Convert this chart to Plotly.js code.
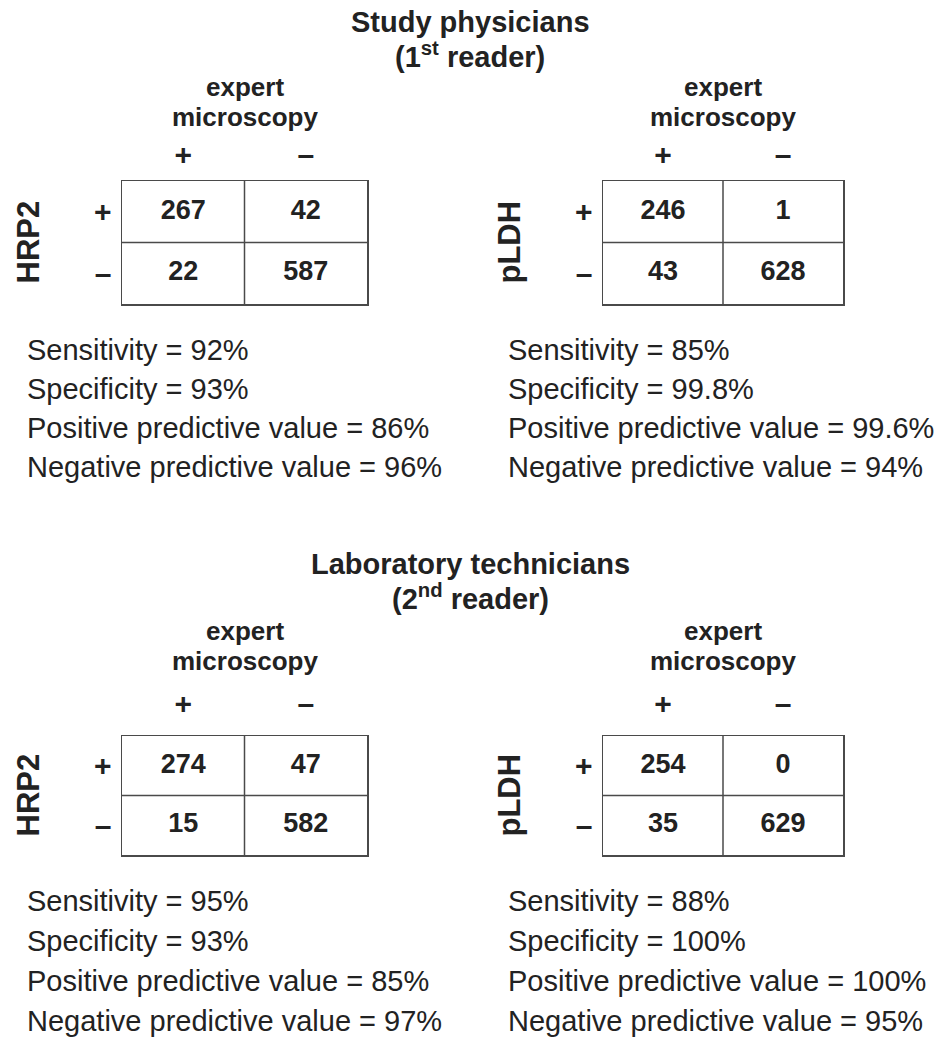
<!DOCTYPE html>
<html>
<head>
<meta charset="utf-8">
<script src="https://cdn.plot.ly/plotly-3.0.1.min.js"></script>
<style>html,body{margin:0;padding:0;background:#fff;}#chart{width:940px;height:1042px;}</style>
</head>
<body>
<div id="chart"></div>
<script>
// ---------- data ----------
const readerTitles = ["Study physicians", "Laboratory technicians"];
const readerSubtitles = ["(1<sup>st</sup> reader)", "(2<sup>nd</sup> reader)"];
const tests = ["HRP2", "pLDH"];
const referenceLabel = ["expert", "microscopy"];
const colLabels = ["+", "–"];
const rowLabels = ["+", "–"];
const metrics = ["Sensitivity", "Specificity", "Positive predictive value", "Negative predictive value"];

const physHRP2 = [[267, 42], [22, 587]];
const physPLDH = [[246, 1], [43, 628]];
const techHRP2 = [[274, 47], [15, 582]];
const techPLDH = [[254, 0], [35, 629]];

const physHRP2Stats = ["92%", "93%", "86%", "96%"];
const physPLDHStats = ["85%", "99.8%", "99.6%", "94%"];
const techHRP2Stats = ["95%", "93%", "85%", "97%"];
const techPLDHStats = ["88%", "100%", "100%", "95%"];

// ---------- layout helpers ----------
const W = 940, H = 1042;
const FAM = '"Liberation Sans", Arial, Helvetica, sans-serif';
const INK = '#222';
const LINE = '#4a4a4a';
const px = p => p / W;
const py = p => 1 - p / H;

const panels = [
  {table: physHRP2, stats: physHRP2Stats, test: 0, reader: 0, box: {l: 122, r: 367, t: 181, b: 304}, statX: 25},
  {table: physPLDH, stats: physPLDHStats, test: 1, reader: 0, box: {l: 603, r: 843, t: 181, b: 304}, statX: 506},
  {table: techHRP2, stats: techHRP2Stats, test: 0, reader: 1, box: {l: 122, r: 367, t: 736, b: 855}, statX: 25},
  {table: techPLDH, stats: techPLDHStats, test: 1, reader: 1, box: {l: 603, r: 843, t: 736, b: 855}, statX: 506}
];
const readerY = [{t1: 22, t2: 55, e1: 87, e2: 117, tick: 3, stats: [350, 389, 428, 467]},
                 {t1: 564, t2: 597, e1: 631, e2: 661, tick: 9, stats: [901, 941, 981, 1021]}];

const data = [];
const layout = {
  width: W, height: H,
  margin: {l: 0, r: 0, t: 0, b: 0},
  paper_bgcolor: '#fff', plot_bgcolor: '#fff',
  showlegend: false,
  font: {family: FAM, color: INK},
  annotations: [], shapes: []
};

readerTitles.forEach((t, r) => {
  layout.annotations.push({xref: 'paper', yref: 'paper', x: 0.5, y: py(readerY[r].t1), text: t,
    showarrow: false, xanchor: 'center', yanchor: 'middle', font: {size: 29, weight: 'bold', family: FAM, color: INK}});
  layout.annotations.push({xref: 'paper', yref: 'paper', x: 0.5, y: py(readerY[r].t2), text: readerSubtitles[r],
    showarrow: false, xanchor: 'center', yanchor: 'middle', font: {size: 29, weight: 'bold', family: FAM, color: INK}});
});

panels.forEach((p, i) => {
  const n = i === 0 ? '' : String(i + 1);
  const xa = 'xaxis' + n, ya = 'yaxis' + n;
  const xr = 'x' + n, yr = 'y' + n;
  const b = p.box;
  const ry = readerY[p.reader];
  layout[xa] = {
    domain: [px(b.l), px(b.r)], anchor: yr, range: [0, 2], side: 'top',
    tickmode: 'array', tickvals: colLabels.map((_, j) => j + 0.5), ticktext: colLabels,
    ticks: 'outside', ticklen: ry.tick, tickcolor: 'rgba(0,0,0,0)',
    tickfont: {size: 30, weight: 'bold', family: FAM, color: INK},
    showline: true, mirror: true, linecolor: LINE, linewidth: 1.5,
    showgrid: false, zeroline: false, fixedrange: true
  };
  layout[ya] = {
    domain: [py(b.b), py(b.t)], anchor: xr, range: [2, 0],
    tickmode: 'array', tickvals: rowLabels.map((_, j) => j + 0.5), ticktext: rowLabels,
    ticks: 'outside', ticklen: 3, tickcolor: 'rgba(0,0,0,0)',
    tickfont: {size: 30, weight: 'bold', family: FAM, color: INK},
    showline: true, mirror: true, linecolor: LINE, linewidth: 1.5,
    showgrid: false, zeroline: false, fixedrange: true
  };
  // inner dividers
  layout.shapes.push({type: 'line', xref: xr, yref: yr + ' domain', x0: 1, x1: 1, y0: 0, y1: 1, line: {color: LINE, width: 1.5}});
  layout.shapes.push({type: 'line', xref: xr + ' domain', yref: yr, x0: 0, x1: 1, y0: 1, y1: 1, line: {color: LINE, width: 1.5}});

  // cell counts
  const xs = [], ys = [], txt = [];
  p.table.forEach((row, ri) => row.forEach((v, ci) => { xs.push(ci + 0.5); ys.push(ri + 0.5); txt.push(String(v)); }));
  data.push({type: 'scatter', mode: 'text', x: xs, y: ys, text: txt, xaxis: xr, yaxis: yr,
    textfont: {size: 27, weight: 'bold', family: FAM, color: INK}, hoverinfo: 'skip', cliponaxis: false});

  // reference label
  const cx = (b.l + b.r) / 2;
  layout.annotations.push({xref: 'paper', yref: 'paper', x: px(cx), y: py(ry.e1), text: referenceLabel[0],
    showarrow: false, xanchor: 'center', yanchor: 'middle', font: {size: 26, weight: 'bold', family: FAM, color: INK}});
  layout.annotations.push({xref: 'paper', yref: 'paper', x: px(cx), y: py(ry.e2), text: referenceLabel[1],
    showarrow: false, xanchor: 'center', yanchor: 'middle', font: {size: 26, weight: 'bold', family: FAM, color: INK}});

  // test label (rotated)
  layout.annotations.push({xref: xr + ' domain', yref: yr + ' domain', x: 0, y: 0.5, xshift: -94, text: tests[p.test],
    textangle: -90, showarrow: false, xanchor: 'center', yanchor: 'middle', font: {size: 31, weight: 'bold', family: FAM, color: INK}});

  // statistics
  metrics.forEach((m, k) => {
    layout.annotations.push({xref: 'paper', yref: 'paper', x: px(p.statX), y: py(ry.stats[k]), text: m + ' = ' + p.stats[k],
      showarrow: false, xanchor: 'left', yanchor: 'middle', align: 'left', font: {size: 29, family: FAM, color: INK}});
  });
});

Plotly.newPlot('chart', data, layout, {displayModeBar: false, staticPlot: true});
</script>
</body>
</html>
